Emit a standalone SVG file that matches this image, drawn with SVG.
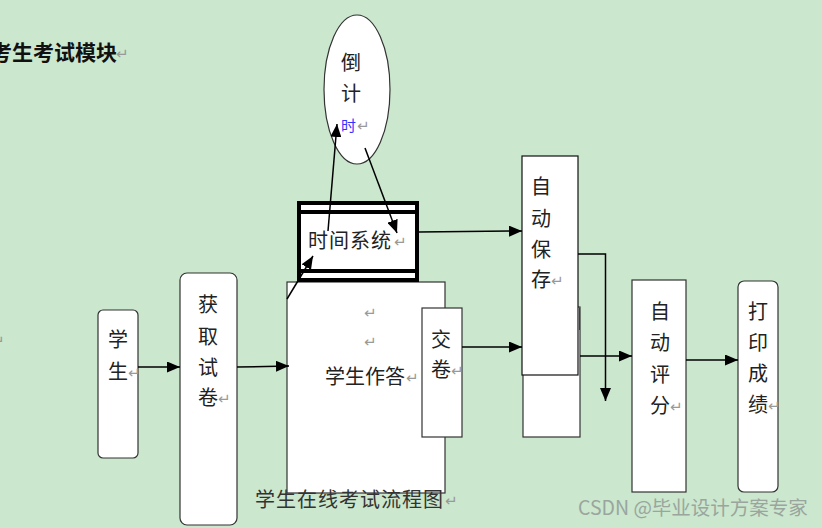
<svg xmlns="http://www.w3.org/2000/svg" width="822" height="528" viewBox="0 0 822 528">
<defs>
<marker id="ah" viewBox="0 0 13 11" refX="13" refY="5.5" markerWidth="13" markerHeight="11" markerUnits="userSpaceOnUse" orient="auto">
<path d="M0,0 L13,5.5 L0,11 z" fill="#000"/>
</marker>
<style>
.bx{fill:#fff;stroke:#333;stroke-width:1.2}
.t{font-family:"Noto Sans CJK SC","Liberation Serif",serif;font-size:20px;fill:#222}
.r{font-family:"DejaVu Sans",sans-serif;font-size:15px;fill:#999}
.c{stroke:#000;stroke-width:1.5;fill:none}
</style>
</defs>
<rect width="822" height="528" fill="#cbe7ce"/>
<g id="title">
<text x="-9" y="60" class="t" style="font-weight:bold;font-size:21px;fill:#111">考生考试模块</text>
<text x="116" y="59" class="r">↵</text>
<text x="-8" y="346" class="r">↵</text>
</g>
<g id="student">
<rect x="98" y="310" width="40" height="148" rx="5" class="bx"/>
<text x="108" y="347" class="t">学</text>
<text x="108" y="379" class="t">生</text><text x="128" y="378" class="r">↵</text>
</g>
<g id="getpaper">
<rect x="180" y="273" width="57" height="252" rx="7" class="bx"/>
<text x="198" y="312" class="t">获</text>
<text x="198" y="344" class="t">取</text>
<text x="198" y="375" class="t">试</text>
<text x="198" y="405" class="t">卷</text><text x="218" y="404" class="r">↵</text>
</g>
<g id="answer">
<rect x="287" y="282" width="158" height="211" class="bx"/>
<text x="364" y="318" class="r">↵</text>
<text x="364" y="347" class="r">↵</text>
<text x="325" y="384" class="t">学生作答</text><text x="406" y="383" class="r">↵</text>
</g>
<g id="caption">
<text x="255" y="507" class="t" style="letter-spacing:1px;fill:#333">学生在线考试流程图</text>
<text x="445" y="506" class="r">↵</text>
</g>
<g id="submit">
<rect x="422" y="308" width="40" height="129" class="bx"/>
<text x="431" y="347" class="t">交</text>
<text x="431" y="377" class="t">卷</text><text x="451" y="376" class="r">↵</text>
</g>
<g id="timesys">
<rect x="299" y="203" width="118" height="77" fill="#fff" stroke="#000" stroke-width="4"/>
<line x1="299" y1="212" x2="417" y2="212" stroke="#000" stroke-width="4"/>
<line x1="299" y1="271" x2="417" y2="271" stroke="#000" stroke-width="4"/>
<text x="308" y="248" class="t" style="letter-spacing:1px">时间系统</text><text x="394" y="247" class="r">↵</text>
</g>
<g id="countdown">
<ellipse cx="357" cy="89.5" rx="33" ry="74.5" class="bx"/>
<text x="341" y="70" class="t">倒</text>
<text x="341" y="101" class="t">计</text>
<text x="341" y="131" class="t" style="font-size:15px;fill:#33f">时</text><text x="357" y="131" class="r">↵</text>
</g>
<g id="autosave">
<rect x="523" y="307" width="57" height="130" class="bx"/>
<line x1="579.5" y1="308" x2="579.5" y2="330" stroke="#c00" stroke-width="1"/>
<rect x="522" y="156" width="56" height="219" fill="#fff" stroke="#111" stroke-width="1.2"/>
<text x="531" y="194" class="t">自</text>
<text x="531" y="226" class="t">动</text>
<text x="531" y="257" class="t">保</text>
<text x="531" y="287" class="t">存</text><text x="551" y="286" class="r">↵</text>
</g>
<g id="autograde">
<rect x="632" y="280" width="54" height="212" class="bx"/>
<text x="650" y="319" class="t">自</text>
<text x="650" y="350" class="t">动</text>
<text x="650" y="382" class="t">评</text>
<text x="650" y="413" class="t">分</text><text x="670" y="412" class="r">↵</text>
</g>
<g id="print">
<rect x="738" y="281" width="40" height="211" rx="6" class="bx"/>
<text x="748" y="319" class="t">打</text>
<text x="748" y="350" class="t">印</text>
<text x="748" y="381" class="t">成</text>
<text x="748" y="412" class="t">绩</text><text x="768" y="411" class="r">↵</text>
</g>
<g id="connectors">
<line x1="138" y1="367" x2="180" y2="367" class="c" marker-end="url(#ah)"/>
<line x1="237" y1="367" x2="289" y2="366" class="c" marker-end="url(#ah)"/>
<line x1="287" y1="299" x2="313" y2="256" class="c" marker-end="url(#ah)"/>
<line x1="328" y1="231" x2="337" y2="124" class="c" marker-end="url(#ah)"/>
<line x1="365" y1="148" x2="397" y2="233" class="c" marker-end="url(#ah)"/>
<line x1="419" y1="232" x2="522" y2="231" class="c" marker-end="url(#ah)"/>
<line x1="462" y1="347" x2="522" y2="347" class="c" marker-end="url(#ah)"/>
<polyline points="578,254 605.5,254 605.5,401" class="c" marker-end="url(#ah)"/>
<line x1="580" y1="356" x2="632" y2="356" class="c" marker-end="url(#ah)"/>
<line x1="686" y1="360" x2="738" y2="360" class="c" marker-end="url(#ah)"/>
</g>
<g id="watermark">
<text x="578" y="515" style="font-family:'Noto Sans CJK SC','Liberation Sans',sans-serif;font-size:19.5px;fill:#9aa59d">CSDN @毕业设计方案专家</text>
</g>
</svg>
